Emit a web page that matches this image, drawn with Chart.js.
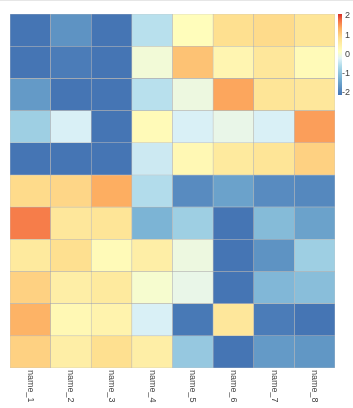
<!DOCTYPE html>
<html lang="en">
<head>
<meta charset="UTF-8">
<title>Heatmap</title>
<style>
  html, body { margin: 0; padding: 0; background: #fff; }
  #wrap { position: relative; width: 353px; height: 408px; border-top: 1px solid #e6e6e6; box-sizing: border-box; }
  canvas { position: absolute; left: 0; top: -1px; }
</style>
<script src="https://cdn.jsdelivr.net/npm/chart.js@4.4.1/dist/chart.umd.min.js"></script>
</head>
<body>
<div id="wrap"><canvas id="heat" width="353" height="408"></canvas></div>
<script>
// column names along the bottom
var columnLabels = ['name_1', 'name_2', 'name_3', 'name_4', 'name_5', 'name_6', 'name_7', 'name_8'];

// one array per row, top to bottom
var row01 = [-2.0, -1.6, -2.0, -0.5, 0.2, 0.8, 0.85, 0.7];
var row02 = [-2.0, -1.9, -2.0, 0.0, 1.1, 0.35, 0.65, 0.25];
var row03 = [-1.5, -2.0, -2.0, -0.5, -0.05, 1.35, 0.7, 0.65];
var row04 = [-0.75, -0.25, -2.0, 0.25, -0.25, -0.1, -0.25, 1.4];
var row05 = [-2.0, -2.0, -2.0, -0.35, 0.3, 0.6, 0.7, 0.95];
var row06 = [0.85, 0.9, 1.3, -0.55, -1.7, -1.4, -1.7, -1.75];
var row07 = [1.6, 0.65, 0.7, -1.15, -0.75, -2.0, -1.05, -1.4];
var row08 = [0.6, 0.8, 0.25, 0.5, -0.05, -2.0, -1.6, -0.75];
var row09 = [0.95, 0.5, 0.6, 0.05, -0.1, -2.0, -1.1, -1.0];
var row10 = [1.25, 0.3, 0.4, -0.25, -1.95, 0.65, -1.9, -2.0];
var row11 = [0.95, 0.5, 0.8, 0.5, -0.85, -2.0, -1.5, -1.55];

var colorbarTicks = [2, 1, 0, -1, -2];

var rows = [row01, row02, row03, row04, row05, row06, row07, row08, row09, row10, row11];

// diverging scale, value -> colour
var stops = [
    [-2.0, [69, 117, 180]],
    [-1.25, [116, 173, 209]],
    [-0.6, [171, 217, 233]],
    [-0.2, [224, 243, 248]],
    [0.15, [255, 255, 191]],
    [0.8, [254, 224, 144]],
    [1.3, [253, 174, 97]],
    [1.7, [244, 109, 67]],
    [2.0, [215, 48, 39]]
];

function colorFor(v) {
    if (v <= stops[0][0]) return 'rgb(' + stops[0][1].join(',') + ')';
    for (var i = 1; i < stops.length; i++) {
        if (v <= stops[i][0]) {
            var a = stops[i - 1], b = stops[i];
            var t = (v - a[0]) / (b[0] - a[0]);
            var c = a[1].map(function (x, k) { return Math.round(x + (b[1][k] - x) * t); });
            return 'rgb(' + c.join(',') + ')';
        }
    }
    return 'rgb(' + stops[stops.length - 1][1].join(',') + ')';
}

var datasets = rows.map(function (r, i) {
    return {
        data: r.map(function () { return [i, i + 1]; }),
        backgroundColor: r.map(colorFor),
        borderColor: 'rgba(150,150,150,0.55)',
        borderWidth: 0.6,
        borderSkipped: false,
        barPercentage: 1,
        categoryPercentage: 1
    };
});

var extras = {
    id: 'extras',
    afterDraw: function (chart) {
        var ctx = chart.ctx;
        var area = chart.chartArea;
        var x = chart.scales.x;

        // rotated column labels, reading downwards
        ctx.save();
        ctx.fillStyle = '#444';
        ctx.font = '9px "Liberation Sans", Arial, sans-serif';
        ctx.textAlign = 'left';
        ctx.textBaseline = 'middle';
        columnLabels.forEach(function (lab, i) {
            ctx.save();
            ctx.translate(x.getPixelForValue(i), area.bottom + 2);
            ctx.rotate(Math.PI / 2);
            ctx.fillText(lab, 0, 0);
            ctx.restore();
        });
        ctx.restore();

        // colour bar
        var bx = 338, bw = 4, top = area.top, bottom = 95;
        var g = ctx.createLinearGradient(0, bottom, 0, top);
        stops.forEach(function (s) {
            g.addColorStop((s[0] + 2) / 4, 'rgb(' + s[1].join(',') + ')');
        });
        ctx.fillStyle = g;
        ctx.fillRect(bx, top, bw, bottom - top);

        ctx.save();
        ctx.fillStyle = '#444';
        ctx.font = '9px "Liberation Sans", Arial, sans-serif';
        ctx.textAlign = 'right';
        ctx.textBaseline = 'middle';
        colorbarTicks.forEach(function (v) {
            var y = top + 2 + (2 - v) / 4 * (bottom - top - 4);
            ctx.fillText(String(v), 350, y);
        });
        ctx.restore();
    }
};

new Chart(document.getElementById('heat'), {
    type: 'bar',
    data: { labels: columnLabels, datasets: datasets },
    options: {
        responsive: false,
        animation: false,
        devicePixelRatio: 1,
        layout: { padding: { left: 10, top: 14, right: 18, bottom: 40 } },
        plugins: { legend: { display: false }, tooltip: { enabled: false } },
        scales: {
            x: { stacked: true, display: false },
            y: { min: 0, max: 11, reverse: true, display: false }
        }
    },
    plugins: [extras]
});
</script>
</body>
</html>
